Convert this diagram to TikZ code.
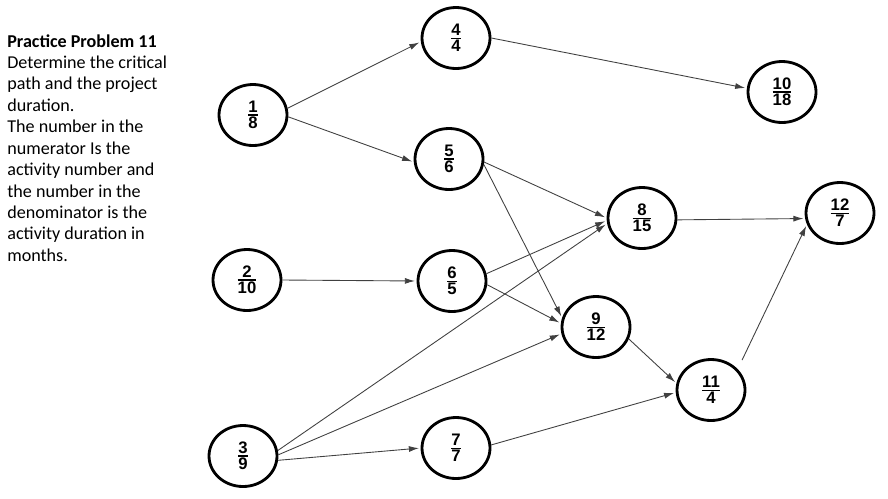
\documentclass[tikz,border=0pt]{standalone}
\usepackage{amsmath}
\usepackage{fontspec}
\setmainfont{Carlito}
\newfontfamily\pnnumfont{Liberation Sans}
\usetikzlibrary{arrows.meta,shapes.geometric}
\tikzset{
  pnnode/.style={draw, ellipse, line width=1.6pt, minimum width=1.36cm, minimum height=1.22cm,
    inner sep=0pt, font=\pnnumfont\bfseries\fontsize{9.5}{11}\selectfont},
  pnarrow/.style={-{Latex[length=2mm,width=1.2mm]}, line width=0.5pt, black!75, shorten >=1pt},
  pntext/.style={align=left, inner sep=0pt, font=\fontsize{10.3}{12.2}\selectfont},
}
\newcommand{\actfrac}[2]{$\genfrac{}{}{0.8pt}{1}{\mbox{#1}}{\mbox{#2}}$}

\begin{document}
\begin{tikzpicture}[x=0.02cm, y=-0.02cm]
  \useasboundingbox (0,0) rectangle (888,498);
  \node[pntext, anchor=north west] (prob) at (7,34)
    {\textbf{Practice Problem 11}\\Determine the critical\\path and the project\\duration.\\
     The number in the\\numerator Is the\\activity number and\\the number in the\\
     denominator is the\\activity duration in\\months.};

  \node[pnnode] (a1) at (253,115) {\actfrac{1}{8}};
  \node[pnnode] (a2) at (247,280) {\actfrac{2}{10}};
  \node[pnnode] (a3) at (243,456) {\actfrac{3}{9}};
  \node[pnnode] (a4) at (456,38) {\actfrac{4}{4}};
  \node[pnnode] (a5) at (449,159) {\actfrac{5}{6}};
  \node[pnnode] (a6) at (452,281) {\actfrac{6}{5}};
  \node[pnnode] (a7) at (456,448) {\actfrac{7}{7}};
  \node[pnnode] (a8) at (642,218) {\actfrac{8}{15}};
  \node[pnnode] (a9) at (596,327) {\actfrac{9}{12}};
  \node[pnnode] (a10) at (782,92) {\actfrac{10}{18}};
  \node[pnnode] (a11) at (711,390) {\actfrac{11}{4}};
  \node[pnnode] (a12) at (840,213) {\actfrac{12}{7}};

  \draw[pnarrow] (a1.11) -- (a4.186);
  \draw[pnarrow] (a1.-3) -- (a5.185);
  \draw[pnarrow] (a4.east) -- (a10.174);
  \draw[pnarrow] (a5.-5) -- (a8.180);
  \draw[pnarrow] (a5.-9) -- (a9.165);
  \draw[pnarrow] (a2.east) -- (a6.west);
  \draw[pnarrow] (a6.12) -- (a8.184);
  \draw[pnarrow] (a6.-6) -- (a9.174);
  \draw[pnarrow] (a3.9) -- (a8.189);
  \draw[pnarrow] (a3.2) -- (a9.191);
  \draw[pnarrow] (a3.-7) -- (a7.west);
  \draw[pnarrow] (a7.5) -- (a11.184);
  \draw[pnarrow] (a9.-20) -- (a11.169);
  \draw[pnarrow] (a8.-3) -- (a12.189);
  \draw[pnarrow, shorten <=0.2cm] (a11.38) -- (a12.199);
\end{tikzpicture}
\end{document}
